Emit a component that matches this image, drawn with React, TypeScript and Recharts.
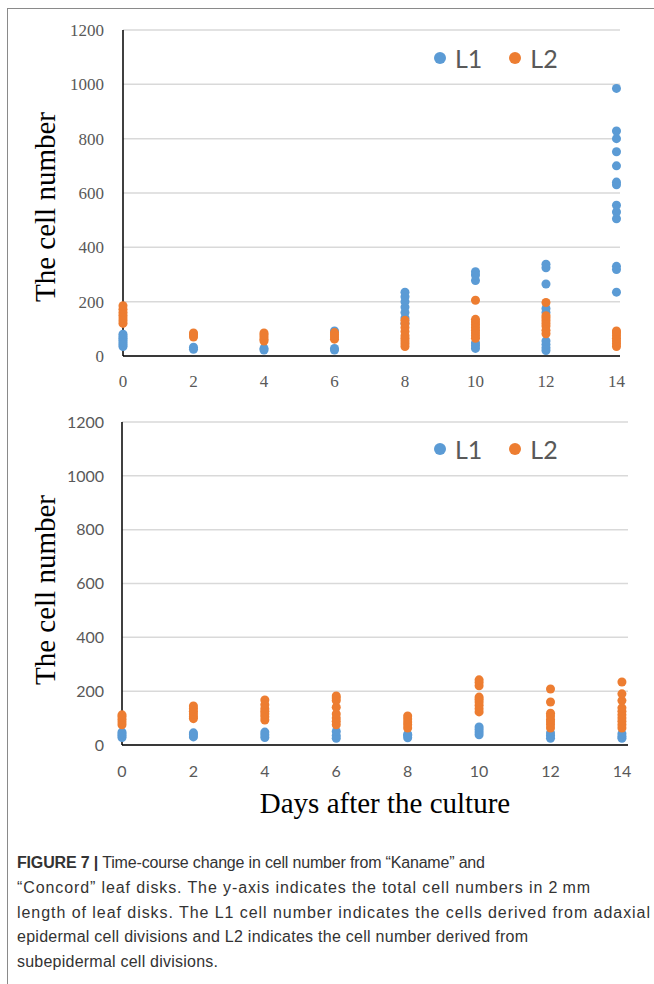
import { ScatterChart, Scatter, XAxis, YAxis, ZAxis, CartesianGrid, Legend, Label } from 'recharts';

const days = [0, 2, 4, 6, 8, 10, 12, 14];
const yTicks = [0, 200, 400, 600, 800, 1000, 1200];

// top panel, values per day
const topL1 = [
  [35, 42, 50, 58, 65, 72, 80],
  [25, 32],
  [22, 28],
  [22, 28, 92],
  [120, 140, 160, 180, 200, 218, 235],
  [28, 38, 48, 278, 298, 310],
  [20, 30, 42, 55, 160, 175, 265, 325, 338],
  [235, 318, 330, 505, 530, 555, 630, 640, 700, 752, 800, 828, 985],
];
const topL2 = [
  [120, 130, 140, 150, 160, 172, 185],
  [70, 78, 85],
  [55, 62, 70, 78, 85],
  [62, 70, 78, 86],
  [35, 45, 55, 65, 75, 90, 105, 120, 132],
  [65, 75, 85, 95, 105, 115, 125, 135, 205],
  [82, 95, 110, 120, 130, 140, 148, 197],
  [35, 45, 55, 65, 75, 85, 92],
];

// bottom panel
const bottomL1 = [
  [28, 35, 42, 48],
  [30, 38, 45],
  [28, 38, 48],
  [25, 35, 50],
  [27, 35, 40],
  [38, 48, 58, 67],
  [25, 35, 45],
  [25, 32, 42],
];
const bottomL2 = [
  [75, 85, 95, 105, 112],
  [98, 105, 115, 125, 135, 145],
  [93, 105, 115, 125, 135, 150, 167],
  [75, 88, 100, 115, 140, 165, 175, 182],
  [63, 75, 85, 97, 108],
  [123, 135, 148, 160, 170, 178, 220, 232, 242],
  [63, 75, 85, 95, 108, 118, 160, 208],
  [63, 75, 88, 100, 112, 125, 138, 165, 190, 234],
];

const captionLines = [
  'Time-course change in cell number from “Kaname” and',
  '“Concord” leaf disks. The y-axis indicates the total cell numbers in 2\u2009mm',
  'length of leaf disks. The L1 cell number indicates the cells derived from adaxial',
  'epidermal cell divisions and L2 indicates the cell number derived from',
  'subepidermal cell divisions.',
];
const captionWidths = [468, 573, 633, 511, 201];

const BLUE = '#5b9bd5';
const ORANGE = '#ed7d31';
const SERIF = '"Liberation Serif", "Times New Roman", serif';
const SANS = 'Lato, "Liberation Sans", sans-serif';

const toPoints = (rows: number[][]) =>
  rows.flatMap((vals, i) => vals.map((v) => ({ day: days[i], cells: v })));

// zero-height box so the legend takes no room from the plot
function LegendBox({ payload }: any) {
  return (
    <div style={{ height: 0, display: 'flex', alignItems: 'center', fontFamily: SANS, fontSize: 25, color: '#595959' }}>
      {(payload || []).map((p: any, i: number) => (
        <div key={p.value} style={{ display: 'flex', alignItems: 'center', marginLeft: i === 0 ? 0 : 27 }}>
          <span style={{ width: 12, height: 12, borderRadius: 6, background: p.color, marginRight: 9 }} />
          <span>{p.value}</span>
        </div>
      ))}
    </div>
  );
}

interface PanelProps {
  l1: number[][];
  l2: number[][];
  height: number;
  margin: { top: number; right: number; bottom: number; left: number };
  xMax: number;
  tickFont: string;
  tickSize: number;
  xTickMargin: number;
  yTickMargin: number;
  xAxisHeight: number;
  yLabelY: number;
  legendTop: number;
  showXLabel?: boolean;
}

function Panel(props: PanelProps) {
  const tick = { fontSize: props.tickSize, fill: '#595959', fontFamily: props.tickFont };
  return (
    <ScatterChart width={654} height={props.height} margin={props.margin}>
      <CartesianGrid vertical={false} stroke="#d9d9d9" strokeWidth={1.5} />
      <XAxis
        type="number"
        dataKey="day"
        domain={[0, props.xMax]}
        ticks={days}
        tick={tick}
        tickLine={false}
        tickMargin={props.xTickMargin}
        axisLine={{ stroke: '#000', strokeWidth: 1.5 }}
        height={props.xAxisHeight}
      >
        {props.showXLabel && (
          <Label
            content={() => (
              <text x={385} y={413} textAnchor="middle" dominantBaseline="central" fontFamily={SERIF} fontSize={29} fill="#000">
                Days after the culture
              </text>
            )}
          />
        )}
      </XAxis>
      <YAxis
        type="number"
        dataKey="cells"
        domain={[0, 1200]}
        ticks={yTicks}
        tick={tick}
        tickLine={false}
        tickMargin={props.yTickMargin}
        axisLine={{ stroke: '#000', strokeWidth: 1.5 }}
        width={60}
      >
        <Label
          content={() => (
            <text
              x={45}
              y={props.yLabelY}
              transform={`rotate(-90, 45, ${props.yLabelY})`}
              textAnchor="middle"
              dominantBaseline="central"
              fontFamily={SERIF}
              fontSize={29}
              fill="#000"
            >
              The cell number
            </text>
          )}
        />
      </YAxis>
      <ZAxis range={[95, 95]} />
      <Legend content={<LegendBox />} wrapperStyle={{ top: props.legendTop, left: 434, width: 200 }} />
      <Scatter name="L1" data={toPoints(props.l1)} fill={BLUE} shape="circle" isAnimationActive={false} />
      <Scatter name="L2" data={toPoints(props.l2)} fill={ORANGE} shape="circle" isAnimationActive={false} />
    </ScatterChart>
  );
}

export default function App() {
  return (
    <div style={{ position: 'absolute', left: 0, top: 0, width: 654, height: 984, overflow: 'hidden', background: '#fff' }}>
      <div style={{ position: 'absolute', left: 7, top: 8, width: 700, height: 1000, border: '1px solid #8a8a8a' }} />
      <div style={{ position: 'absolute', left: 0, top: 0 }}>
        <Panel
          l1={topL1}
          l2={topL2}
          height={400}
          margin={{ top: 30, right: 34, bottom: 14, left: 63 }}
          xMax={14.1}
          tickFont={SERIF}
          tickSize={17}
          xTickMargin={13}
          yTickMargin={13}
          xAxisHeight={30}
          yLabelY={207}
          legendTop={58}
        />
      </div>
      <div style={{ position: 'absolute', left: 0, top: 390 }}>
        <Panel
          l1={bottomL1}
          l2={bottomL2}
          height={440}
          margin={{ top: 32, right: 26, bottom: 10, left: 62 }}
          xMax={14.17}
          tickFont={SANS}
          tickSize={16}
          xTickMargin={15}
          yTickMargin={12}
          xAxisHeight={75}
          yLabelY={200}
          legendTop={59}
          showXLabel
        />
      </div>
      <svg style={{ position: 'absolute', left: 0, top: 840 }} width={654} height={144}>
        {captionLines.map((line, i) => (
          <text
            key={i}
            x={17}
            y={28 + i * 24.75}
            textLength={captionWidths[i]}
            lengthAdjust="spacing"
            fontFamily='"Liberation Sans", Arial, sans-serif'
            fontSize={16}
            fill="#333"
          >
            {i === 0 && <tspan fontWeight="bold">FIGURE 7 | </tspan>}
            {line}
          </text>
        ))}
      </svg>
    </div>
  );
}
